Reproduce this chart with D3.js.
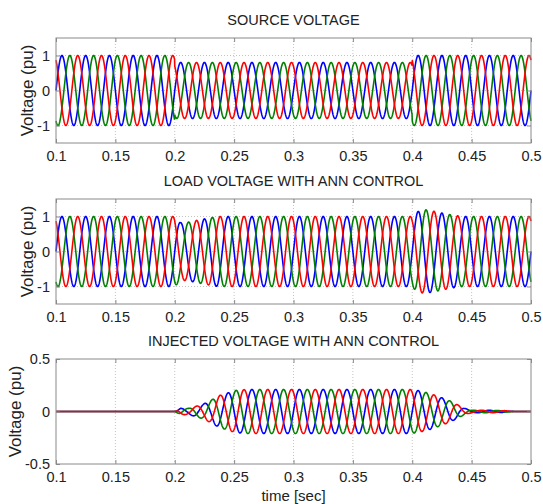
<!DOCTYPE html>
<html lang="en">
<head>
  <meta charset="UTF-8" />
  <title>Source, load and injected voltage</title>
  <style>
    body { margin: 0; background: #fff; }
    svg text { font-family: "Liberation Sans", Arial, sans-serif; fill: #222; }
    .frame { fill: none; stroke: #8a8a8a; stroke-width: 1; }
    .grid line { stroke: #c4c4c4; stroke-dasharray: 1,2; }
    .wave { fill: none; stroke-width: 1.6; }
  </style>
</head>
<body>
  <svg id="chart"></svg>

  <script src="https://d3js.org/d3.v7.min.js"></script>
  <script>
    // tick labels
    const xTicks = [0.1, 0.15, 0.2, 0.25, 0.3, 0.35, 0.4, 0.45, 0.5];
    const yTicksPu = [-1, 0, 1];
    const yTicksInj = [-0.5, 0, 0.5];

    // three phases, 50 Hz
    const phaseNames = ["A", "B", "C"];
    const phaseShiftDeg = [0, -120, 120];
    const phaseColors = ["#0000ff", "#008000", "#ff0000"];
    const freqHz = 50;

    // peak amplitude envelopes (time s, amplitude pu)
    const sourceT   = [0.1, 0.2, 0.2, 0.4, 0.4, 0.5];
    const sourceAmp = [1,   1,   0.8, 0.8, 1,   1];

    const loadT   = [0.1, 0.2, 0.205, 0.212, 0.22, 0.228, 0.236, 0.4, 0.403, 0.41, 0.418, 0.426, 0.434, 0.442, 0.5];
    const loadAmp = [1,   1,   0.82,  0.84,  0.9,  0.95,  1,     1,   1.12,  1.2,  1.15,  1.09,  1.04,  1,     1];

    const injT   = [0.1, 0.2, 0.205, 0.212, 0.218, 0.224, 0.231, 0.237, 0.244, 0.251, 0.26, 0.398, 0.405, 0.412, 0.418, 0.425, 0.432, 0.438, 0.444, 0.45, 0.465, 0.478, 0.486, 0.5];
    const injAmp = [0,   0,   0.03,  0.03,  0.05,  0.07,  0.11,  0.15,  0.175, 0.2,   0.21, 0.21,  0.2,   0.18,  0.16,  0.13,  0.1,   0.065, 0.03,  0.012, 0.012, 0.008, 0,     0];

    const panels = [
      { title: "SOURCE VOLTAGE", envT: sourceT, envA: sourceAmp, yDomain: [-1.5, 1.5], yTicks: yTicksPu, top: 38, labelX: 27 },
      { title: "LOAD VOLTAGE WITH ANN CONTROL", envT: loadT, envA: loadAmp, yDomain: [-1.5, 1.5], yTicks: yTicksPu, top: 199, labelX: 27 },
      { title: "INJECTED VOLTAGE WITH ANN CONTROL", envT: injT, envA: injAmp, yDomain: [-0.5, 0.5], yTicks: yTicksInj, top: 359, labelX: 15 }
    ];

    const W = 543, H = 504;
    const left = 56, right = 531, plotH = 105;

    const svg = d3.select("#chart").attr("width", W).attr("height", H);

    const x = d3.scaleLinear().domain([0.1, 0.5]).range([left, right]);
    const samples = d3.range(0.1, 0.50001, 0.0002);

    panels.forEach(p => {
      const y = d3.scaleLinear().domain(p.yDomain).range([p.top + plotH, p.top]);
      const env = d3.scaleLinear().domain(p.envT).range(p.envA).clamp(true);
      const g = svg.append("g");

      // dotted grid
      const grid = g.append("g").attr("class", "grid");
      grid.selectAll(".gx").data(xTicks.slice(1, -1)).join("line")
        .attr("x1", d => x(d)).attr("x2", d => x(d))
        .attr("y1", p.top).attr("y2", p.top + plotH);
      grid.selectAll(".gy").data(p.yTicks.filter(d => d > p.yDomain[0] && d < p.yDomain[1])).join("line")
        .attr("x1", left).attr("x2", right)
        .attr("y1", d => y(d)).attr("y2", d => y(d));

      // waveforms
      const line = d3.line().x(d => x(d[0])).y(d => y(d[1]));
      phaseNames.forEach((name, i) => {
        const ph = phaseShiftDeg[i] * Math.PI / 180;
        const pts = samples.map(t => [t, env(t) * Math.sin(2 * Math.PI * freqHz * t + ph)]);
        g.append("path").attr("class", "wave")
          .attr("stroke", phaseColors[i])
          .attr("d", line(pts));
      });

      // axes (ticks inside, box around)
      g.append("g")
        .attr("transform", `translate(0,${p.top + plotH})`)
        .call(d3.axisBottom(x).tickValues(xTicks).tickSize(-4).tickPadding(8).tickFormat(d => String(d)))
        .call(a => a.select(".domain").remove())
        .call(a => a.selectAll("line").attr("stroke", "#8a8a8a"))
        .call(a => a.selectAll("text").attr("font-size", 14.5).attr("fill", "#222"));
      g.append("g")
        .attr("transform", `translate(0,${p.top})`)
        .call(d3.axisTop(x).tickValues(xTicks).tickSize(-4).tickFormat(""))
        .call(a => a.select(".domain").remove())
        .call(a => a.selectAll("line").attr("stroke", "#8a8a8a"));
      g.append("g")
        .attr("transform", `translate(${left},0)`)
        .call(d3.axisLeft(y).tickValues(p.yTicks).tickSize(-4).tickPadding(6).tickFormat(d => String(d)))
        .call(a => a.select(".domain").remove())
        .call(a => a.selectAll("line").attr("stroke", "#8a8a8a"))
        .call(a => a.selectAll("text").attr("font-size", 14.5).attr("fill", "#222"));
      g.append("g")
        .attr("transform", `translate(${right},0)`)
        .call(d3.axisRight(y).tickValues(p.yTicks).tickSize(-4).tickFormat(""))
        .call(a => a.select(".domain").remove())
        .call(a => a.selectAll("line").attr("stroke", "#8a8a8a"));

      g.append("rect").attr("class", "frame")
        .attr("x", left).attr("y", p.top)
        .attr("width", right - left).attr("height", plotH);

      g.append("text")
        .attr("x", (left + right) / 2).attr("y", p.top - 13)
        .attr("text-anchor", "middle").attr("font-size", 14.5)
        .text(p.title);

      g.append("text")
        .attr("transform", `translate(${p.labelX},${p.top + plotH / 2}) rotate(-90)`)
        .attr("text-anchor", "middle").attr("dy", "0.35em").attr("font-size", 17)
        .text("Voltage (pu)");
    });

    svg.append("text")
      .attr("x", (left + right) / 2).attr("y", 501)
      .attr("text-anchor", "middle").attr("font-size", 15)
      .text("time [sec]");
  </script>
</body>
</html>
